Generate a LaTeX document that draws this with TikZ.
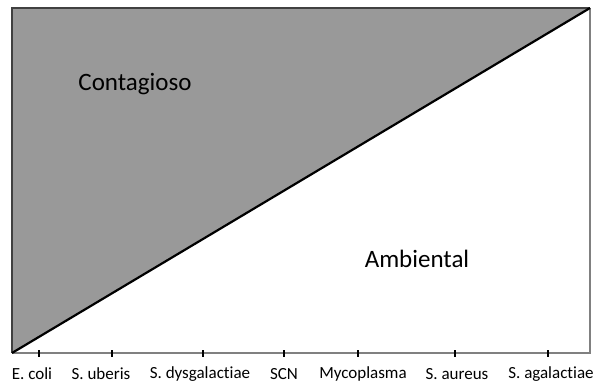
\documentclass[tikz,border=0pt]{standalone}
\usepackage{fontspec}
\setmainfont[Ligatures=NoCommon]{Carlito}
\definecolor{zonegray}{HTML}{999999}
\definecolor{framegray}{HTML}{808080}
\tikzset{
  axisline/.style={draw=framegray, line width=1.2pt},
  tick/.style={draw=black, line width=1.4pt},
  bug/.style={font=\fontsize{17}{20}\selectfont, inner sep=0pt},
  zone/.style={font=\fontsize{25}{30}\selectfont, inner sep=0pt}
}
\begin{document}
\begin{tikzpicture}[x=1pt, y=-1pt]
  \useasboundingbox (0,0) rectangle (600,387);
  \coordinate (bl) at (12,353);
  \coordinate (tl) at (12,8);
  \coordinate (tr) at (590,8);
  \coordinate (br) at (590,353);
  % contagious zone
  \fill[zonegray] (bl) -- (tl) -- (tr) -- cycle;
  \draw[axisline] (tr) -- (br) -- (bl);
  \draw[draw=black!75, line width=1.8pt] (bl) -- (tl) -- (tr);
  \draw[black, line width=2.2pt] (bl) -- (tr);
  % ticks
  \draw
    (39,353) coordinate (t1)
    (112,353) coordinate (t2)
    (203,353) coordinate (t3)
    (284,353) coordinate (t4)
    (358,353) coordinate (t5)
    (455,353) coordinate (t6)
    (548,353) coordinate (t7);
  \begin{scope}[tick]
    \draw ([yshift=2.5pt]t1) -- ([yshift=-4pt]t1);
    \draw ([yshift=2.5pt]t2) -- ([yshift=-4pt]t2);
    \draw ([yshift=2.5pt]t3) -- ([yshift=-4pt]t3);
    \draw ([yshift=2.5pt]t4) -- ([yshift=-4pt]t4);
    \draw ([yshift=2.5pt]t5) -- ([yshift=-4pt]t5);
    \draw ([yshift=2.5pt]t6) -- ([yshift=-4pt]t6);
    \draw ([yshift=2.5pt]t7) -- ([yshift=-4pt]t7);
  \end{scope}
  % labels
  \node[bug] (ecoli) at (32,374) {E. coli};
  \node[bug] (uberis) at (101,374) {S. uberis};
  \node[bug] (dysga) at (200,374) {S. dysgalactiae};
  \node[bug] (scn) at (284,374) {SCN};
  \node[bug] (myco) at (363,374) {Mycoplasma};
  \node[bug] (aureus) at (457,374) {S. aureus};
  \node[bug] (agala) at (551,374) {S. agalactiae};
  \node[zone] (conta) at (135,84) {Contagioso};
  \node[zone] (ambi) at (417,259) {Ambiental};
\end{tikzpicture}
\end{document}
